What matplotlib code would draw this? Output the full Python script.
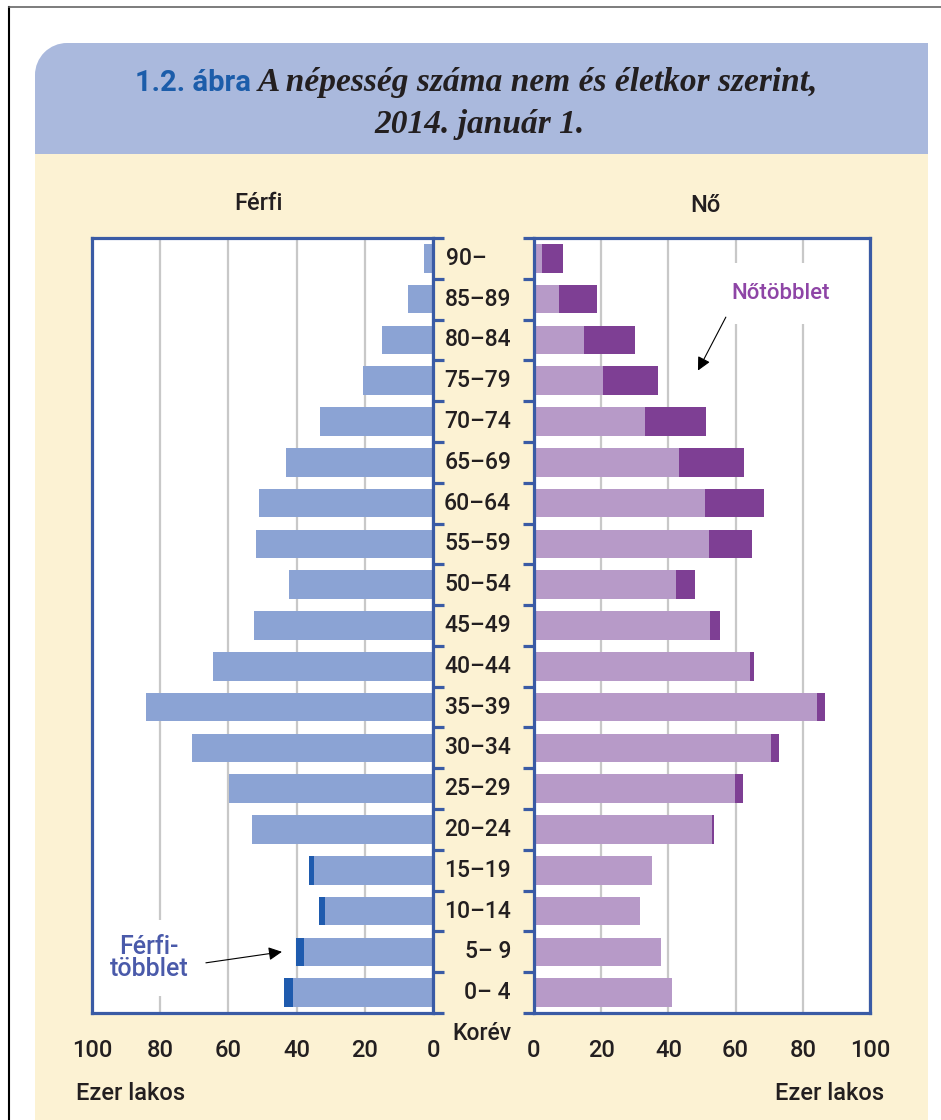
import numpy as np
import matplotlib
matplotlib.use("Agg")
import matplotlib.pyplot as plt
from matplotlib import patches, transforms

# ---------------- data ----------------
age_groups = ["0– 4", "5– 9", "10–14", "15–19", "20–24", "25–29", "30–34",
              "35–39", "40–44", "45–49", "50–54", "55–59", "60–64", "65–69",
              "70–74", "75–79", "80–84", "85–89", "90–"]
men = [43.6, 40.1, 33.4, 36.3, 53.0, 59.7, 70.6, 84.1, 64.4, 52.4, 42.2,
       52.0, 51.0, 43.1, 33.1, 20.6, 15.0, 7.3, 2.5]
women = [41.2, 37.8, 31.6, 35.0, 53.5, 62.1, 72.8, 86.6, 65.4, 55.5, 47.8,
         64.8, 68.4, 62.4, 51.3, 36.9, 30.1, 18.8, 8.6]
x_ticks = [0, 20, 40, 60, 80, 100]

# ---------------- style ----------------
W, H = 941, 1120
SANS = ["Liberation Sans Narrow", "Roboto", "DejaVu Sans"]
SERIF = ["Liberation Serif", "DejaVu Serif"]
TXT = "#231F20"
SPINE = "#3A5BA5"
GRID = "#C8C8C8"
MEN_L, MEN_D = "#8BA3D4", "#1F5BAE"
WOM_L, WOM_D = "#B79AC8", "#7E3F94"
CREAM = "#FCF2D3"
BAND = "#AAB9DD"
WT = "medium"

plt.rcParams["font.family"] = SANS

fig = plt.figure(figsize=(W / 100, H / 100), dpi=100)
fig.patch.set_facecolor("white")


def fx(x):
    return x / W


def fy(y):
    return 1 - y / H


# page frame lines
fig.add_artist(plt.Line2D([fx(9), fx(9)], [fy(7), fy(1120)], color="black", lw=1.5))
fig.add_artist(plt.Line2D([fx(9), fx(941)], [fy(7), fy(7)], color="#666666", lw=1.2))

# cream background
fig.add_artist(patches.Rectangle((fx(35), fy(1120)), fx(928) - fx(35), fy(154) - fy(1120),
                                 transform=fig.transFigure, facecolor=CREAM, edgecolor="none", zorder=0))
# header band with rounded top-left corner
r = 32
fig.add_artist(patches.Rectangle((fx(35 + r), fy(154)), fx(928) - fx(35 + r), fy(43) - fy(154),
                                 transform=fig.transFigure, facecolor=BAND, edgecolor="none", zorder=0))
fig.add_artist(patches.Rectangle((fx(35), fy(154)), fx(35 + r) - fx(35), fy(43 + r) - fy(154),
                                 transform=fig.transFigure, facecolor=BAND, edgecolor="none", zorder=0))
fig.add_artist(patches.Ellipse((fx(35 + r), fy(43 + r)), 2 * r / W, 2 * r / H,
                               transform=fig.transFigure, facecolor=BAND, edgecolor="none", zorder=0))

# title
fig.text(fx(251), fy(91), "1.2. ábra", ha="right", va="baseline", fontsize=21,
         fontweight="bold", color="#1C5DAA", family=SANS)
fig.text(fx(258), fy(91), "A népesség száma nem és életkor szerint,", ha="left", va="baseline",
         fontsize=24, fontweight="bold", fontstyle="italic", color=TXT, family=SERIF)
fig.text(fx(480), fy(133), "2014. január 1.", ha="center", va="baseline",
         fontsize=24, fontweight="bold", fontstyle="italic", color=TXT, family=SERIF)

fig.text(fx(258), fy(203), "Férfi", ha="center", va="center", fontsize=17, color=TXT, fontweight=WT)
fig.text(fx(705), fy(205), "Nő", ha="center", va="center", fontsize=17, color=TXT, fontweight=WT)

# axes
axL = fig.add_axes([fx(92), fy(1013), fx(433) - fx(92), fy(238) - fy(1013)])
axR = fig.add_axes([fx(534), fy(1013), fx(870) - fx(534), fy(238) - fy(1013)])

y = np.arange(len(age_groups))
men_a = np.array(men)
wom_a = np.array(women)
common = np.minimum(men_a, wom_a)
men_ex = np.clip(men_a - wom_a, 0, None)
wom_ex = np.clip(wom_a - men_a, 0, None)

bh = 0.7
axL.barh(y, common, height=bh, color=MEN_L, zorder=2)
axL.barh(y, men_ex, left=common, height=bh, color=MEN_D, zorder=2)
axR.barh(y, common, height=bh, color=WOM_L, zorder=2)
axR.barh(y, wom_ex, left=common, height=bh, color=WOM_D, zorder=2)

axL.set_xlim(100, 0)
axR.set_xlim(0, 100)
for ax in (axL, axR):
    ax.set_ylim(-0.5, len(age_groups) - 0.5)
    ax.set_facecolor("white")
    ax.set_xticks(x_ticks)
    ax.set_xticklabels([str(v) for v in x_ticks], fontweight=WT)
    ax.tick_params(axis="x", length=0, pad=19, labelsize=17, labelcolor=TXT)
    ax.grid(axis="x", color=GRID, lw=1.6, zorder=0)
    ax.set_axisbelow(True)
    for s in ax.spines.values():
        s.set_color(SPINE)
        s.set_linewidth(2.3)
        s.set_zorder(5)
    ax.set_yticks(np.arange(-0.5, len(age_groups), 1))
    ax.set_yticklabels([])
    ax.tick_params(axis="y", length=8, width=2.3, color=SPINE, direction="out")

axL.yaxis.tick_right()
axR.yaxis.tick_left()

# age labels in the middle
tr = transforms.blended_transform_factory(fig.transFigure, axL.transData)
for yi, lab in zip(y, age_groups):
    if lab.endswith("–"):
        fig.text(fx(446), yi, lab, transform=tr, ha="left", va="center", fontsize=16.5,
                 color=TXT, fontweight=WT)
    else:
        fig.text(fx(511), yi, lab, transform=tr, ha="right", va="center", fontsize=16.5,
                 color=TXT, fontweight=WT)

fig.text(fx(482), fy(1033), "Korév", ha="center", va="center", fontsize=16.5, color=TXT, fontweight=WT)
fig.text(fx(76), fy(1094), "Ezer lakos", ha="left", va="center", fontsize=17, color=TXT, fontweight=WT)
fig.text(fx(884), fy(1094), "Ezer lakos", ha="right", va="center", fontsize=17, color=TXT, fontweight=WT)

# annotations
arrow = dict(arrowstyle="-|>,head_length=0.8,head_width=0.4", color="black", lw=0.8,
             shrinkA=0, shrinkB=0)
axR.text(73.5, 17.15, "Nőtöbblet", ha="center", va="center", fontsize=16, color="#8E45A6",
         fontweight=WT, bbox=dict(boxstyle="square,pad=0.9", fc="white", ec="none"), zorder=3)
axR.annotate("", xy=(48.8, 15.25), xytext=(57.1, 16.56), arrowprops=arrow, zorder=4)

axL.text(83.3, 0.85, "Férfi-\ntöbblet", ha="center", va="center", fontsize=18, color="#4A5AAA",
         linespacing=0.92, fontweight=WT,
         bbox=dict(boxstyle="square,pad=0.6", fc="white", ec="none"), zorder=3)
axL.annotate("", xy=(44.3, 1.0), xytext=(66.6, 0.73), arrowprops=arrow, zorder=4)

fig.savefig("out.png", dpi=100, facecolor=fig.get_facecolor())
